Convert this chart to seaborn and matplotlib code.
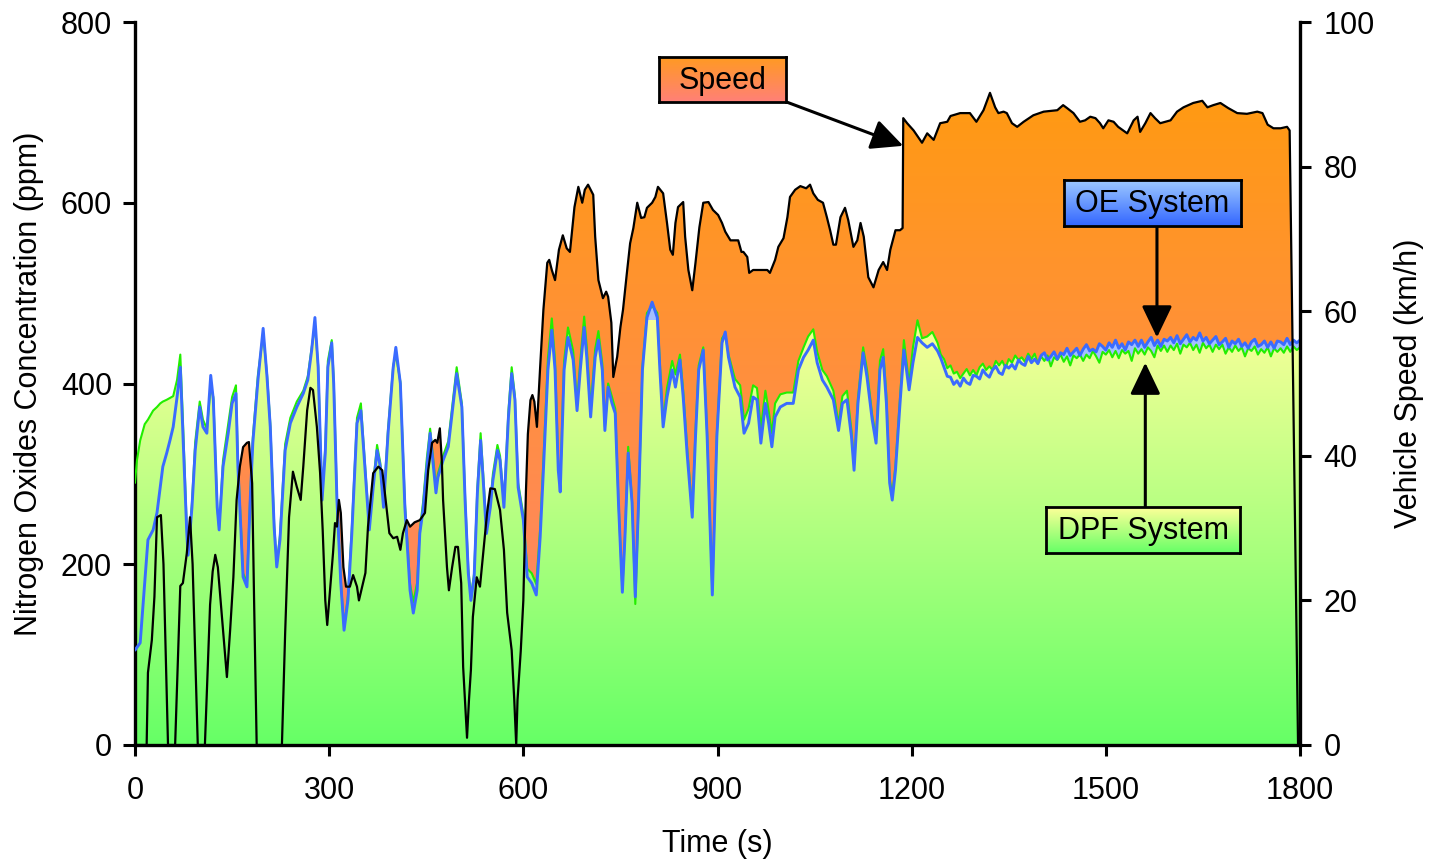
import numpy as np
import matplotlib
matplotlib.use("Agg")
import matplotlib.pyplot as plt
import seaborn as sns
from matplotlib.colors import LinearSegmentedColormap

# ---------------- data ----------------
speed_t = [0, 18, 20, 26, 30, 34, 40, 44, 51, 62,
           70, 74, 80, 85, 89, 97, 108, 116, 120, 124,
           128, 135, 142, 147, 152, 157, 162, 167, 173, 176,
           181, 184, 188, 227, 232, 238, 244, 250, 256, 260,
           266, 271, 275, 281, 286, 290, 294, 297, 301, 306,
           309, 312, 315, 318, 322, 326, 332, 337, 343, 346,
           351, 356, 360, 368, 376, 382, 386, 393, 399, 405,
           410, 414, 420, 425, 432, 440, 448, 453, 459, 464,
           467, 471, 474, 476, 482, 485, 490, 495, 499, 504,
           507, 513, 516, 519, 522, 528, 533, 538, 544, 549,
           556, 564, 570, 575, 582, 586, 589, 591, 596, 600,
           604, 607, 611, 614, 617, 621, 626, 631, 637, 640,
           644, 649, 655, 661, 667, 672, 679, 685, 691, 695,
           700, 708, 711, 716, 723, 728, 731, 736, 739, 745,
           750, 754, 760, 765, 770, 776, 782, 787, 791, 799,
           804, 808, 816, 822, 827, 831, 835, 839, 847, 850,
           855, 861, 866, 872, 878, 886, 893, 901, 907, 912,
           920, 932, 937, 940, 946, 949, 955, 977, 981, 989,
           994, 1002, 1008, 1012, 1020, 1028, 1037, 1043, 1048, 1055,
           1063, 1069, 1074, 1079, 1083, 1090, 1097, 1102, 1110, 1116,
           1121, 1126, 1133, 1141, 1149, 1156, 1162, 1167, 1175, 1182,
           1186, 1187, 1193, 1203, 1216, 1224, 1234, 1244, 1255, 1260,
           1275, 1290, 1300, 1311, 1321, 1329, 1334, 1342, 1347, 1355,
           1363, 1373, 1388, 1404, 1425, 1434, 1440, 1450, 1460, 1468,
           1476, 1484, 1491, 1496, 1504, 1512, 1519, 1533, 1543, 1549,
           1553, 1561, 1569, 1576, 1584, 1600, 1610, 1620, 1635, 1649,
           1657, 1666, 1677, 1689, 1703, 1718, 1734, 1742, 1750, 1759,
           1770, 1780, 1784, 1797, 1800]
speed_kmh = [0, 0, 10, 14.5, 20.5, 31.5, 31.8, 25, 0, 0,
             22, 22.4, 26.5, 31.5, 25, 0, 0, 19.4, 24, 26.3,
             24.6, 17, 9.4, 15.9, 23.2, 33.9, 38.5, 41.2, 41.8, 41.9,
             36.2, 20, 0, 0, 15.5, 31.5, 37.8, 35.7, 33.9, 38.5,
             46.3, 49.4, 49.1, 44, 37.6, 29.7, 20, 16.6, 21, 26.6,
             30.7, 30.2, 33.9, 32.1, 24.6, 21.9, 21.9, 23.5, 21.9, 20,
             21.9, 23.8, 30.2, 37.6, 38.5, 38, 34.9, 29.3, 28.6, 28.8,
             27, 29.3, 31.1, 30.2, 30.8, 31.1, 32.1, 38, 41.8, 42.2,
             41.8, 43.8, 39.4, 33.9, 24.6, 21.4, 24.6, 27.4, 27.4, 22.4,
             10.8, 1, 6.2, 10.4, 17.7, 23.2, 21.9, 26.6, 32.1, 35.5,
             35.4, 32.5, 27, 18.3, 13.1, 6.2, 0, 6.2, 13, 20,
             35, 43, 47.7, 48.4, 47.5, 44, 52.3, 60.2, 66.7, 67.1,
             65.7, 64.3, 68.5, 70.5, 68.7, 68.2, 74.4, 77.2, 75, 76.8,
             77.5, 76.1, 70.3, 64.3, 61.8, 62.7, 62, 58.4, 50.9, 53.7,
             57.8, 60.2, 65.3, 69.4, 71.5, 75, 72.9, 73, 74.3, 75,
             75.8, 77.2, 76.3, 72.2, 68.5, 67.8, 72.2, 74.4, 75.1, 70.3,
             65.7, 62.9, 66.7, 71.6, 75, 75.1, 74, 73.3, 72.2, 71,
             69.8, 69.8, 68.2, 68.2, 67.5, 65.3, 65.7, 65.7, 65.3, 67.1,
             68.9, 70.1, 73, 75.8, 76.8, 77.3, 77, 77.5, 76.3, 75.4,
             75, 73, 71.2, 69.2, 69.2, 73, 74.3, 72.6, 68.9, 69.8,
             72.2, 70.3, 64.7, 63.3, 65.7, 66.8, 65.7, 68.5, 71.2, 71.2,
             71.5, 86.7, 86, 85, 83.3, 84.6, 83.7, 86, 86.2, 87,
             87.4, 87.4, 86.2, 87.8, 90.2, 88.2, 87.4, 87.6, 87.4, 86,
             85.5, 86.2, 87.1, 87.6, 87.8, 88.5, 88.1, 87.4, 86.2, 86.4,
             86.9, 86.7, 86, 85.3, 86.4, 86.2, 85.5, 84.6, 86.4, 86.9,
             84.8, 86, 87.4, 86.7, 86, 86.4, 87.6, 88.2, 88.8, 89.1,
             88.2, 88.5, 88.8, 88.1, 87.4, 87.3, 87.6, 87.4, 85.8, 85.3,
             85.3, 85.5, 85, 0, 0]

nox_t_early = [0, 3, 8, 15, 20, 28, 34, 39, 43, 49,
               54, 59, 65, 70, 74, 80, 82, 88, 93, 100,
               105, 111, 117, 121, 127, 130, 136, 144, 150, 156,
               159, 167, 173, 178, 182, 190, 198, 204, 209, 215,
               219, 224, 232, 240, 250, 260, 267, 273, 278, 283,
               289, 294, 298, 304, 307, 312, 318, 323, 329, 335,
               343, 349, 353, 362, 368, 374, 379, 384, 391, 399,
               403, 410, 417, 425, 430, 436, 440, 445, 451, 456,
               461, 465, 468, 476, 484, 491, 497, 505, 510, 515,
               519, 524, 529, 534, 538, 543, 549, 553, 560, 564,
               570, 577, 582, 587, 592, 600, 606, 613, 620, 626,
               631, 638, 644, 649, 654, 657, 663, 669, 677, 683,
               688, 694, 698, 704, 711, 716, 722, 726, 731, 737,
               742, 747, 753, 757, 762, 768, 773, 778, 784, 791,
               799, 807, 811, 816, 822, 830, 835, 842, 847, 853,
               861, 866, 871, 878, 884, 892, 899, 907, 912, 917,
               927, 935, 941, 948, 955, 961, 967, 974, 979, 984,
               989, 997, 1007, 1017, 1025, 1033, 1040, 1048, 1054, 1062,
               1069, 1079, 1087, 1093, 1100, 1107, 1111, 1117, 1125, 1131,
               1139, 1145, 1151, 1156, 1161, 1166, 1170, 1175, 1182, 1188,
               1196, 1202, 1209, 1216, 1224, 1232, 1240, 1245]
nox_t_late = list(range(1250, 1801, 5))

oe_early = [105, 108, 113, 179, 227, 238, 257, 285, 308, 323,
            337, 352, 385, 418, 345, 235, 210, 263, 326, 374,
            352, 345, 409, 382, 263, 238, 308, 345, 378, 389,
            308, 186, 175, 271, 334, 404, 461, 407, 352, 241,
            197, 227, 326, 356, 374, 389, 404, 437, 473, 418,
            271, 323, 418, 445, 400, 271, 179, 127, 160, 234,
            356, 370, 330, 238, 285, 326, 308, 263, 345, 418,
            440, 400, 263, 171, 146, 171, 234, 260, 308, 345,
            308, 279, 296, 315, 330, 374, 411, 374, 271, 190,
            160, 186, 279, 337, 293, 234, 263, 293, 326, 315,
            263, 363, 411, 382, 285, 249, 186, 179, 166, 230,
            304, 415, 459, 415, 304, 280, 415, 451, 426, 370,
            415, 462, 429, 363, 429, 448, 415, 348, 396, 378,
            367, 268, 169, 230, 323, 268, 164, 268, 415, 473,
            490, 473, 415, 352, 385, 415, 396, 426, 385, 323,
            252, 341, 415, 437, 341, 166, 341, 445, 457, 429,
            396, 385, 345, 356, 385, 382, 334, 378, 356, 330,
            363, 374, 378, 378, 415, 429, 437, 448, 423, 404,
            396, 382, 348, 378, 382, 341, 304, 378, 434, 407,
            360, 334, 415, 429, 378, 290, 271, 304, 378, 437,
            393, 423, 451, 445, 440, 444, 436, 428]
oe_late = [418, 408, 407, 399, 403, 397, 406, 401, 399, 409,
           408, 405, 415, 410, 407, 415, 419, 412, 410, 420,
           417, 421, 416, 426, 422, 420, 430, 423, 427, 422,
           431, 434, 426, 430, 435, 427, 434, 432, 439, 431,
           435, 439, 431, 438, 443, 436, 438, 435, 444, 441,
           437, 445, 440, 448, 439, 444, 437, 446, 443, 448,
           441, 448, 440, 446, 451, 442, 448, 441, 449, 447,
           451, 445, 453, 444, 449, 454, 446, 451, 448, 456,
           447, 451, 444, 448, 452, 443, 446, 450, 440, 447,
           444, 449, 441, 445, 439, 446, 449, 441, 443, 447,
           440, 446, 439, 447, 446, 443, 450, 443, 448, 445,
           448]

dpf_early = [290, 315, 337, 355, 360, 370, 374, 378, 380, 382,
             384, 386, 404, 432, 360, 240, 215, 268, 335, 380,
             360, 350, 397, 385, 265, 240, 315, 355, 385, 398,
             315, 190, 180, 275, 340, 410, 455, 410, 356, 245,
             200, 232, 333, 362, 380, 392, 408, 440, 465, 420,
             275, 330, 425, 448, 405, 275, 182, 130, 165, 240,
             362, 378, 335, 242, 290, 332, 312, 268, 350, 420,
             432, 402, 268, 178, 158, 180, 238, 268, 318, 350,
             315, 285, 300, 320, 336, 380, 418, 378, 275, 195,
             165, 190, 285, 345, 300, 240, 268, 300, 332, 320,
             268, 370, 418, 386, 290, 255, 195, 190, 178, 240,
             315, 428, 472, 425, 310, 288, 425, 462, 436, 378,
             425, 474, 440, 372, 438, 458, 422, 352, 400, 385,
             372, 270, 172, 232, 330, 270, 156, 265, 418, 478,
             486, 478, 422, 358, 395, 425, 410, 432, 392, 330,
             258, 348, 420, 440, 345, 170, 345, 450, 455, 432,
             405, 398, 360, 372, 398, 395, 350, 392, 370, 345,
             378, 388, 390, 390, 425, 440, 452, 460, 435, 415,
             408, 392, 355, 386, 392, 348, 310, 384, 440, 415,
             365, 340, 425, 438, 386, 295, 276, 310, 385, 448,
             400, 440, 470, 450, 452, 457, 445, 432]
dpf_late = [427, 417, 420, 411, 413, 406, 411, 416, 409, 415,
            409, 418, 422, 415, 419, 415, 425, 420, 425, 417,
            427, 423, 431, 426, 429, 424, 433, 427, 433, 422,
            430, 425, 431, 419, 429, 426, 432, 424, 430, 420,
            431, 428, 432, 425, 432, 428, 436, 430, 423, 435,
            432, 437, 429, 436, 428, 437, 433, 436, 425, 439,
            433, 438, 432, 440, 436, 429, 442, 436, 442, 435,
            442, 437, 444, 433, 443, 440, 445, 437, 443, 434,
            445, 439, 443, 435, 443, 438, 443, 433, 440, 435,
            442, 436, 440, 430, 439, 436, 441, 432, 438, 434,
            440, 430, 439, 435, 439, 434, 441, 435, 441, 437,
            440]

x_ticks = [0, 300, 600, 900, 1200, 1500, 1800]
nox_ticks = [0, 200, 400, 600, 800]
speed_ticks = [0, 20, 40, 60, 80, 100]

nox_t = nox_t_early + nox_t_late
oe_ppm = oe_early + oe_late
dpf_ppm = dpf_early + dpf_late

# ---------------- style ----------------
sns.set_style("ticks")
plt.rcParams['font.family'] = ['Liberation Sans', 'DejaVu Sans']
for k in ['text.color', 'axes.labelcolor', 'xtick.color', 'ytick.color',
          'xtick.labelcolor', 'ytick.labelcolor']:
    plt.rcParams[k] = 'black'
FS = 22

W, H = 1430, 860
fig = plt.figure(figsize=(W / 100, H / 100), dpi=100)
fig.patch.set_facecolor('white')
rect = [135 / W, 1 - 745 / H, 1165 / W, 723 / H]
ax = fig.add_axes(rect)          # NOx axis (left)
ax2 = ax.twinx()                 # speed fill (bottom layer)
ax3 = ax.twinx()                 # speed line + right axis (top layer)
ax2.set_zorder(1)
ax.set_zorder(2)
ax3.set_zorder(3)
ax.patch.set_visible(False)
ax2.patch.set_visible(False)
ax3.patch.set_visible(False)

grad = np.linspace(0, 1, 256).reshape(-1, 1)
speed_cmap = LinearSegmentedColormap.from_list('spd', ['#FF8276', '#FF9A12'])
dpf_cmap = LinearSegmentedColormap.from_list('dpf', ['#66FF66', '#F8FF99'])

# speed gradient fill
spoly = ax2.fill_between(speed_t, 0, speed_kmh, facecolor='none', edgecolor='none')
sim = ax2.imshow(grad, extent=[0, 1800, 0, 90], origin='lower', aspect='auto',
                 cmap=speed_cmap, interpolation='bilinear')
sim.set_clip_path(spoly.get_paths()[0], ax2.transData)

# OE light-blue fill, then DPF gradient fill
ax.fill_between(nox_t, 0, oe_ppm, color='#A3C0FF', lw=0, zorder=0.5)
dpoly = ax.fill_between(nox_t, 0, dpf_ppm, facecolor='none', edgecolor='none')
dim = ax.imshow(grad, extent=[0, 1800, 0, 470], origin='lower', aspect='auto',
                cmap=dpf_cmap, interpolation='bilinear', zorder=0.8)
dim.set_clip_path(dpoly.get_paths()[0], ax.transData)

sns.lineplot(x=nox_t, y=dpf_ppm, color='#22EE00', lw=1.5, ax=ax, zorder=3)
sns.lineplot(x=nox_t, y=oe_ppm, color='#3A6BFF', lw=2.1, ax=ax, zorder=4)
sns.lineplot(x=speed_t, y=speed_kmh, color='black', lw=1.6, ax=ax3, zorder=5)

# ---------------- axes ----------------
for a in (ax, ax2, ax3):
    a.set_xlim(0, 1800)
ax.set_ylim(0, 800)
ax2.set_ylim(0, 100)
ax3.set_ylim(0, 100)

for s in ['top', 'right']:
    ax.spines[s].set_visible(False)
for s in ['top', 'right', 'left', 'bottom']:
    ax2.spines[s].set_visible(False)
for s in ['top', 'left', 'bottom']:
    ax3.spines[s].set_visible(False)
for a, s in [(ax, 'left'), (ax, 'bottom'), (ax3, 'right')]:
    a.spines[s].set_linewidth(2.4)
    a.spines[s].set_color('black')
ax2.set_yticks([])
ax2.tick_params(axis='both', which='both', length=0, labelleft=False,
                labelright=False, labelbottom=False)

ax.set_xticks(x_ticks)
ax.set_yticks(nox_ticks)
ax3.set_yticks(speed_ticks)
ax.tick_params(axis='y', direction='out', length=8.5, width=2.2, labelsize=FS, pad=8)
ax.tick_params(axis='x', direction='out', length=8, width=2.2, labelsize=FS, pad=14)
ax3.tick_params(axis='y', direction='out', length=8, width=2.2, labelsize=FS, pad=9,
                right=True, labelright=True)
ax3.tick_params(axis='x', length=0, labelbottom=False)

ax.set_xlabel('Time (s)', fontsize=FS, labelpad=17)
ax.set_ylabel('Nitrogen Oxides Concentration (ppm)', fontsize=FS, labelpad=12)
ax3.set_ylabel('Vehicle Speed (km/h)', fontsize=FS, labelpad=14)
ax2.set_ylabel('')

# ---------------- callout boxes ----------------
def gradient_box(x0, y0, x1, y1, top, bottom, label):
    bax = fig.add_axes([x0 / W, 1 - y1 / H, (x1 - x0) / W, (y1 - y0) / H])
    bax.set_zorder(10)
    cm = LinearSegmentedColormap.from_list('b', [bottom, top])
    bax.imshow(grad, extent=[0, 1, 0, 1], origin='lower', aspect='auto', cmap=cm,
               interpolation='bilinear')
    bax.set_xlim(0, 1)
    bax.set_ylim(0, 1)
    bax.set_xticks([])
    bax.set_yticks([])
    for s in bax.spines.values():
        s.set_visible(True)
        s.set_linewidth(2)
        s.set_color('black')
    bax.text(0.5, 0.47, label, ha='center', va='center', fontsize=FS, color='black')

gradient_box(659, 57, 786, 102, '#FF9A22', '#FF8078', 'Speed')
gradient_box(1064, 180, 1241, 226, '#A0CCFF', '#3366FF', 'OE System')
gradient_box(1046, 507, 1240, 553, '#FFFF99', '#66FF66', 'DPF System')

arrow = dict(arrowstyle='-|>,head_length=0.75,head_width=0.36', mutation_scale=26,
             lw=2.2, color='black', shrinkA=0, shrinkB=0)
ax3.annotate('', xy=(1187, 663), xycoords=ax.transData,
             xytext=(1001, 713), textcoords=ax.transData, arrowprops=arrow,
             annotation_clip=False, zorder=20)
ax3.annotate('', xy=(1579, 451), xycoords=ax.transData,
             xytext=(1579, 574), textcoords=ax.transData, arrowprops=arrow,
             annotation_clip=False, zorder=20)
ax3.annotate('', xy=(1561, 423), xycoords=ax.transData,
             xytext=(1561, 263), textcoords=ax.transData, arrowprops=arrow,
             annotation_clip=False, zorder=20)

fig.savefig('out.png', dpi=100, facecolor='white')
